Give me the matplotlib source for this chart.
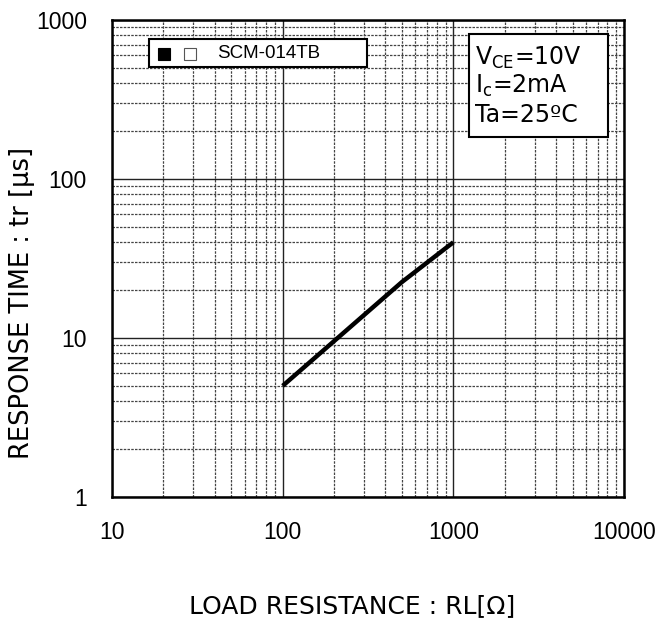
import matplotlib
matplotlib.use("Agg")
import matplotlib.pyplot as plt
from matplotlib.patches import Rectangle
from matplotlib.ticker import LogLocator, FixedLocator, NullFormatter

# ---- data ----
load_resistance = [100, 500, 1000]      # RL [ohm]
response_time = [5.0, 22.5, 40.0]       # tr [us]
series_name = "SCM-014TB"
x_ticks = [10, 100, 1000, 10000]
x_tick_labels = ["10", "100", "1000", "10000"]
y_ticks = [1, 10, 100, 1000]
y_tick_labels = ["1", "10", "100", "1000"]
conditions = [r"V$_{\mathregular{CE}}$=10V", r"I$_{\mathregular{c}}$=2mA", "Ta=25ºC"]

W, H = 658, 626
fig = plt.figure(figsize=(W / 100, H / 100), dpi=100)

def fx(x):
    return x / W

def fy(y):
    return 1 - y / H

L, R, T, B = 112, 624, 20, 497
ax = fig.add_axes([fx(L), fy(B), fx(R) - fx(L), fy(T) - fy(B)])

ax.set_xscale("log")
ax.set_yscale("log")
ax.set_xlim(10, 10000)
ax.set_ylim(1, 1000)

ax.plot(load_resistance, response_time, color="black", lw=3.2, solid_capstyle="butt", zorder=5)

# grid
ax.xaxis.set_minor_locator(LogLocator(base=10, subs=range(2, 10)))
ax.yaxis.set_minor_locator(LogLocator(base=10, subs=range(2, 10)))
ax.xaxis.set_minor_formatter(NullFormatter())
ax.yaxis.set_minor_formatter(NullFormatter())
ax.grid(which="major", color="#222222", lw=1.0, ls="-")
ax.grid(which="minor", color="#444444", lw=0.9, ls=(0, (2, 1)))
ax.set_axisbelow(True)

ax.xaxis.set_major_locator(FixedLocator(x_ticks))
ax.yaxis.set_major_locator(FixedLocator(y_ticks))
ax.set_xticklabels(x_tick_labels, fontsize=16.5, family="Liberation Sans")
ax.set_yticklabels(y_tick_labels, fontsize=16.5, family="Liberation Sans")
ax.tick_params(which="both", length=0)
ax.tick_params(axis="x", pad=17)
ax.tick_params(axis="y", pad=18)

for s in ax.spines.values():
    s.set_linewidth(1.8)
    s.set_color("black")

# axis labels
fig.text(fx(352), fy(606), "LOAD RESISTANCE : RL[Ω]", fontsize=18, family="DejaVu Sans",
         ha="center", va="center")
fig.text(fx(22), fy(303), "RESPONSE TIME : tr [μs]", fontsize=18.5, family="DejaVu Sans",
         ha="center", va="center", rotation=90)

# legend box
fig.patches.append(Rectangle((fx(149), fy(67)), fx(367) - fx(149), fy(39) - fy(67),
                             transform=fig.transFigure, facecolor="white", edgecolor="black",
                             lw=1.5, zorder=10))
fig.patches.append(Rectangle((fx(158), fy(60)), fx(12), fy(48) - fy(60),
                             transform=fig.transFigure, facecolor="black", edgecolor="black",
                             lw=0.8, zorder=11))
fig.patches.append(Rectangle((fx(184), fy(60)), fx(12), fy(48) - fy(60),
                             transform=fig.transFigure, facecolor="white", edgecolor="#555555",
                             lw=0.8, zorder=11))
fig.text(fx(217), fy(53.5), series_name, fontsize=13.5, family="Liberation Sans",
         ha="left", va="center", zorder=12)

# conditions box
fig.patches.append(Rectangle((fx(469), fy(137)), fx(608) - fx(469), fy(34) - fy(137),
                             transform=fig.transFigure, facecolor="white", edgecolor="black",
                             lw=1.5, zorder=10))
for i, line in enumerate(conditions):
    fig.text(fx(475), fy(58 + 28.3 * i), line, fontsize=17, family="DejaVu Sans",
             ha="left", va="center", zorder=12)

fig.savefig("out.png", dpi=100)
